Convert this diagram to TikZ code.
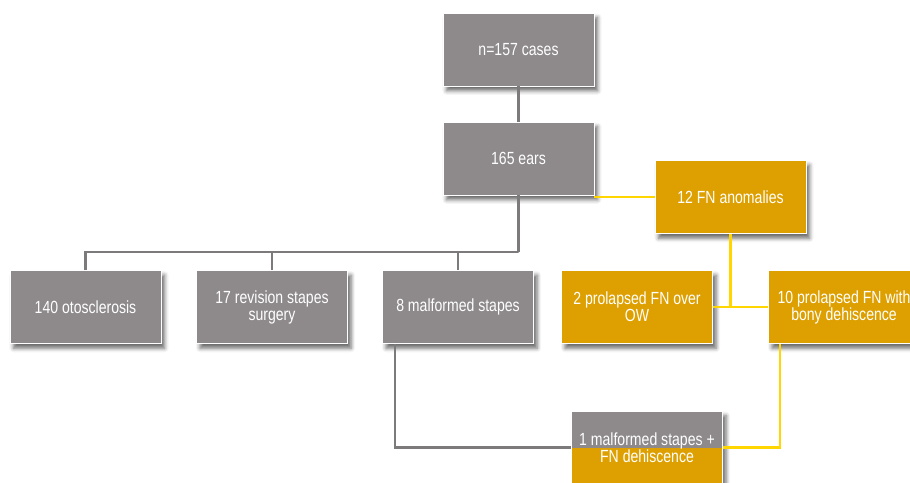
\documentclass[tikz,border=0pt]{standalone}
\usepackage{fontspec}
\setmainfont{Liberation Sans}[FakeStretch=0.8]
\usepackage{tikz}
\usetikzlibrary{shadows.blur}
\definecolor{boxgray}{RGB}{142,138,139}
\definecolor{boxamber}{RGB}{222,160,0}
\definecolor{linegray}{RGB}{125,122,123}
\definecolor{lineyellow}{RGB}{255,214,0}

\begin{document}
\begin{tikzpicture}[
    box/.style={draw=white, line width=0.8pt, text=white, align=center,
      minimum width=4.53cm, minimum height=2.19cm, inner sep=0pt,
      font=\fontsize{15}{14.5}\selectfont,
      blur shadow={shadow xshift=3pt, shadow yshift=-4pt,
        shadow blur radius=3.5pt, shadow opacity=60}},
    graybox/.style={box, fill=boxgray},
    ambbox/.style={box, fill=boxamber},
    grayline/.style={draw=linegray, line width=1.8pt},
    ambline/.style={draw=lineyellow, line width=1.8pt}]
      \useasboundingbox (0,0) rectangle (27.3,-14.49);
      \node[graybox] (cases) at (15.555,-1.485) {n=157 cases};
      \node[graybox] (ears) at (15.555,-4.755) {165 ears};
      \node[ambbox] (anom) at (21.915,-5.91) {12 FN anomalies};
      \node[graybox] (oto) at (2.565,-9.21) {140 otosclerosis};
      \node[graybox] (rev) at (8.16,-9.21) {17 revision stapes\\surgery};
      \node[graybox] (malf) at (13.74,-9.21) {8 malformed stapes};
      \node[ambbox] (ow) at (19.11,-9.21) {2 prolapsed FN over\\OW};
      \node[ambbox] (dehis) at (25.32,-9.21) {10 prolapsed FN with\\bony dehiscence};
      \node[ambbox, path picture={\fill[boxgray]
          (path picture bounding box.north west) rectangle
          (path picture bounding box.east);}]
        (both) at (19.41,-13.425) {1 malformed stapes +\\FN dehiscence};
      \coordinate (hub) at (15.555,-7.56);
      % gray tree
      \draw[grayline] (cases) -- (ears);
      \draw[grayline] (ears.south) -- (hub);
      \draw[grayline] (oto.north) |- (hub) -| (malf.north);
      \draw[grayline] (rev.north) -- (rev.north |- hub);
      \draw[grayline] ([xshift=0.39cm]malf.south west) |- (both.west);
      % FN branch
      \draw[ambline] (anom.west) -- (anom.west -| ears.east);
      \draw[ambline] (anom.south) -- (anom.south |- ow.east);
      \draw[ambline] (ow.east) -- (dehis.west);
      \draw[ambline] ([xshift=0.36cm]dehis.south west) |- (both.east);
    \end{tikzpicture}
\end{document}
